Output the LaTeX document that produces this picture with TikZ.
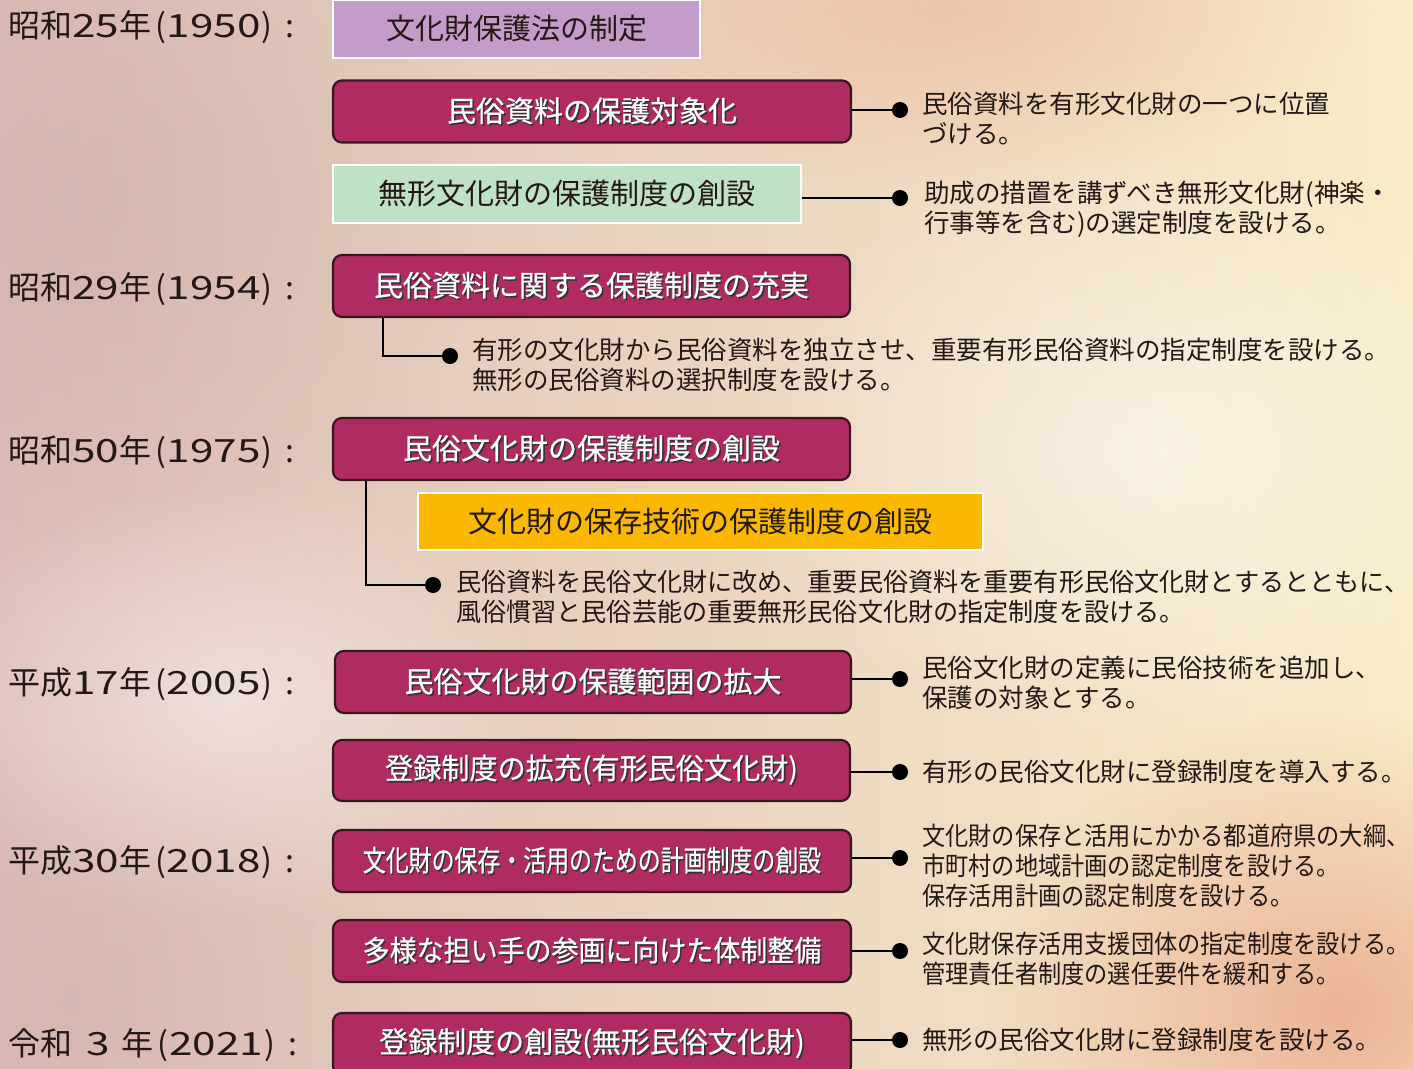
\documentclass[tikz,border=0pt]{standalone}
\usepackage{fontspec}
\newfontfamily\jp{Noto Sans CJK JP}
\newfontfamily\jpm[FakeBold=0.6]{Noto Sans CJK JP}
\usetikzlibrary{fadings}
\definecolor{mroon}{HTML}{AF2B62}
\definecolor{edge}{HTML}{35191F}
\definecolor{ink}{HTML}{231815}
\definecolor{lav}{HTML}{C39CC9}
\definecolor{mint}{HTML}{BFE1C4}
\definecolor{gold}{HTML}{FAB900}
\definecolor{bgL}{HTML}{DDBDB7}
\definecolor{bgM}{HTML}{F4DEC6}
\definecolor{bgR}{HTML}{F9ECC8}
\definecolor{salmon}{HTML}{E8A58A}
\tikzfading[name=softglow, inner color=transparent!0, outer color=transparent!100]
\newcommand\boxfont{\jp\fontsize{29}{34}\selectfont}
\newcommand\redfont{\jpm\fontsize{29}{34}\selectfont}
\newcommand\yearfont{\jp\fontsize{32}{36}\selectfont}
\newcommand\descfont{\jp\fontsize{25.5}{30}\selectfont}
\newcommand\shtext[1]{\rlap{\kern1.6pt\raisebox{-1.6pt}{\color{black!80}#1}}#1}
\newcommand\yd[1]{\scalebox{1.32}[1]{#1}}
\newcommand\yr[1]{\kern4pt(\kern1pt\yd{#1}\kern1pt)\kern13pt:}
\begin{document}
\begin{tikzpicture}[x=1pt,y=-1pt,
  redbox/.style={draw=edge, line width=2.2pt, fill=mroon, rounded corners=9pt, minimum width=518pt, minimum height=62pt, inner sep=0pt, text=white, font=\redfont},
  pastel/.style={draw=white, line width=2pt, minimum height=58pt, inner sep=0pt, text=ink, font=\boxfont},
  yearlabel/.style={anchor=west, inner sep=0pt, text=ink, font=\yearfont},
  desc/.style={anchor=west, inner sep=0pt, text=ink, font=\descfont, align=left},
  pin/.style={circle, fill=black, minimum size=16pt, inner sep=0pt},
  link/.style={line width=2.5pt, black}]
\useasboundingbox (0,0) rectangle (1413,1068);
\clip (0,0) rectangle (1413,1068);
% background
\shade[left color=bgL, middle color=bgM, right color=bgR] (0,0) rectangle (1413,1068);
\fill[salmon, path fading=softglow, fill opacity=0.8] (1340,1010) ellipse (360 and 300);
\fill[salmon, path fading=softglow, fill opacity=0.45] (950,10) ellipse (420 and 180);
\fill[bgL!85!black, path fading=softglow, fill opacity=0.3] (100,200) ellipse (380 and 380);
\fill[bgL!85!black, path fading=softglow, fill opacity=0.25] (80,1000) ellipse (320 and 250);
\fill[white, path fading=softglow, fill opacity=0.45] (230,700) ellipse (330 and 220);
\fill[white, path fading=softglow, fill opacity=0.5] (1150,450) ellipse (420 and 300);

% year labels
\node[yearlabel] (y1) at (8,27) {昭和\yd{25}年\yr{1950}};
\node[yearlabel] (y2) at (8,289) {昭和\yd{29}年\yr{1954}};
\node[yearlabel] (y3) at (8,452) {昭和\yd{50}年\yr{1975}};
\node[yearlabel] (y4) at (8,684) {平成\yd{17}年\yr{2005}};
\node[yearlabel] (y5) at (8,862) {平成\yd{30}年\yr{2018}};
\node[yearlabel] (y6) at (8,1045) {令和\kern14pt\yd{3}\kern12pt年\yr{2021}};

% boxes
\node[pastel, fill=lav, minimum width=367pt] (b1) at (516.5,29) {文化財保護法の制定};
\node[redbox] (b2) at (592,111.5) {\shtext{民俗資料の保護対象化}};
\node[pastel, fill=mint, minimum width=468pt] (b3) at (567,194) {無形文化財の保護制度の創設};
\node[redbox, minimum width=517pt] (b4) at (591.5,286) {\shtext{民俗資料に関する保護制度の充実}};
\node[redbox, minimum width=517pt] (b5) at (591.5,449) {\shtext{民俗文化財の保護制度の創設}};
\node[pastel, fill=gold, minimum width=565pt, minimum height=57pt] (b6) at (700.5,521.5) {文化財の保存技術の保護制度の創設};
\node[redbox, minimum width=516pt] (b7) at (593,682) {\shtext{民俗文化財の保護範囲の拡大}};
\node[redbox, minimum width=517pt, minimum height=61pt] (b8) at (591.5,770.5) {\scalebox{0.97}[1]{\shtext{登録制度の拡充(有形民俗文化財)}}};
\node[redbox] (b9) at (592,861) {\scalebox{0.79}[1]{\shtext{文化財の保存・活用のための計画制度の創設}}};
\node[redbox] (b10) at (592,951) {\scalebox{0.93}[1]{\shtext{多様な担い手の参画に向けた体制整備}}};
\node[redbox] (b11) at (592,1044) {\shtext{登録制度の創設(無形民俗文化財)}};

% pins
\node[pin] (d2) at (900,110) {};
\node[pin] (d3) at (900,198) {};
\node[pin] (d4) at (450,356) {};
\node[pin] (d5) at (433,585) {};
\node[pin] (d7) at (900,679) {};
\node[pin] (d8) at (900,772) {};
\node[pin] (d9) at (900,858) {};
\node[pin] (d10) at (900,951) {};
\node[pin] (d11) at (900,1040) {};

% connectors
\draw[link] (b2.east |- d2) -- (d2);
\draw[link] (b3.east |- d3) -- (d3);
\draw[link] ([xshift=51pt]b4.south west) |- (d4);
\draw[link] ([xshift=34pt]b5.south west) |- (d5);
\draw[link] (b7.east |- d7) -- (d7);
\draw[link] (b8.east |- d8) -- (d8);
\draw[link] (b9.east |- d9) -- (d9);
\draw[link] (b10.east |- d10) -- (d10);
\draw[link] (b11.east |- d11) -- (d11);

% descriptions
\node[desc] (t2) at (922,119) {民俗資料を有形文化財の一つに位置\\づける。};
\node[desc] (t3) at (924,209.5) {助成の措置を講ずべき無形文化財(神楽・\\行事等を含む)の選定制度を設ける。};
\node[desc] (t4) at (472,364.5) {有形の文化財から民俗資料を独立させ、重要有形民俗資料の指定制度を設ける。\\無形の民俗資料の選択制度を設ける。};
\node[desc] (t5) at (456,597) {\scalebox{0.985}[1]{民俗資料を民俗文化財に改め、重要民俗資料を重要有形民俗文化財とするとともに、}\\\scalebox{0.985}[1]{風俗慣習と民俗芸能の重要無形民俗文化財の指定制度を設ける。}};
\node[desc] (t7) at (922,683) {民俗文化財の定義に民俗技術を追加し、\\保護の対象とする。};
\node[desc] (t8) at (922,772) {有形の民俗文化財に登録制度を導入する。};
\node[desc] (t9) at (922,866) {\scalebox{0.91}[1]{文化財の保存と活用にかかる都道府県の大綱、}\\\scalebox{0.91}[1]{市町村の地域計画の認定制度を設ける。}\\\scalebox{0.91}[1]{保存活用計画の認定制度を設ける。}};
\node[desc] (t10) at (922,958.5) {\scalebox{0.91}[1]{文化財保存活用支援団体の指定制度を設ける。}\\\scalebox{0.91}[1]{管理責任者制度の選任要件を緩和する。}};
\node[desc] (t11) at (922,1040) {無形の民俗文化財に登録制度を設ける。};
\end{tikzpicture}
\end{document}
